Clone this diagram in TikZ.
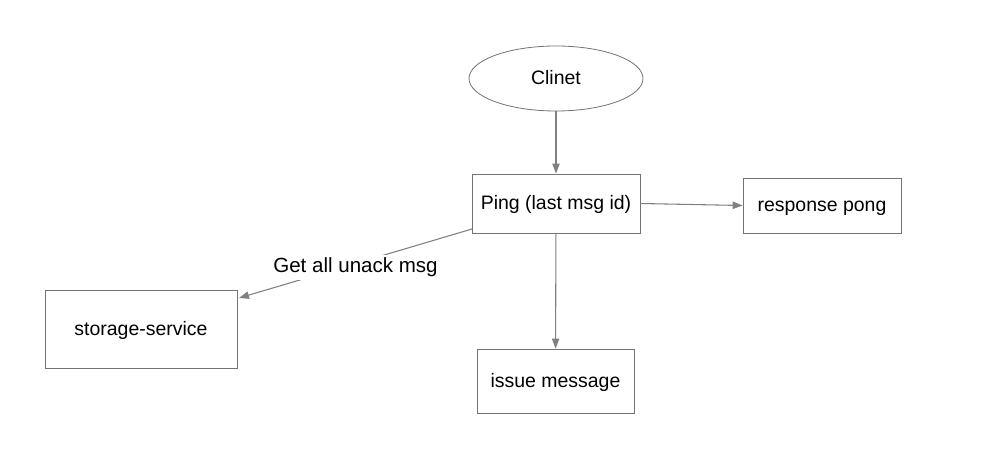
\documentclass[tikz,border=0pt]{standalone}
\usepackage{fontspec}
\setmainfont{Liberation Sans}
\usetikzlibrary{arrows.meta,shapes.geometric}
\begin{document}
\begin{tikzpicture}[x=0.75pt,y=-0.75pt,
  box/.style={draw=black!55,line width=0.6pt,rectangle,inner sep=0pt,text height=10.5pt,text depth=1pt,font=\fontsize{14.6}{17}\selectfont},
  conn/.style={draw=black!50,line width=0.8pt,-{Triangle[length=7.5pt,width=5.5pt]}},
  lbl/.style={fill=white,font=\fontsize{15.4}{18}\selectfont,inner sep=2pt,yshift=-3pt}]
\useasboundingbox[fill=white] (0,0) rectangle (1002,460);
\node[box,ellipse,minimum width=174*0.75pt,minimum height=65*0.75pt] (client) at (556,78.5) {Clinet};
\node[box,minimum width=168*0.75pt,minimum height=59*0.75pt] (ping) at (556,203.5) {Ping (last msg id)};
\node[box,minimum width=158*0.75pt,minimum height=55*0.75pt] (pong) at (822,205.5) {response pong};
\node[box,minimum width=192*0.75pt,minimum height=78*0.75pt] (storage) at (141,329) {storage-service};
\node[box,minimum width=157*0.75pt,minimum height=64*0.75pt] (issue) at (555.5,381) {issue message};
\coordinate (p1) at (472,229);
\coordinate (s1) at (239,298);
\draw[conn] (client) -- (ping);
\draw[conn] (ping.east) -- (pong.west);
\draw[conn] (ping) -- (issue);
\draw[conn] (p1) -- node[lbl] (lab) {Get all unack msg} (s1);
\end{tikzpicture}
\end{document}
